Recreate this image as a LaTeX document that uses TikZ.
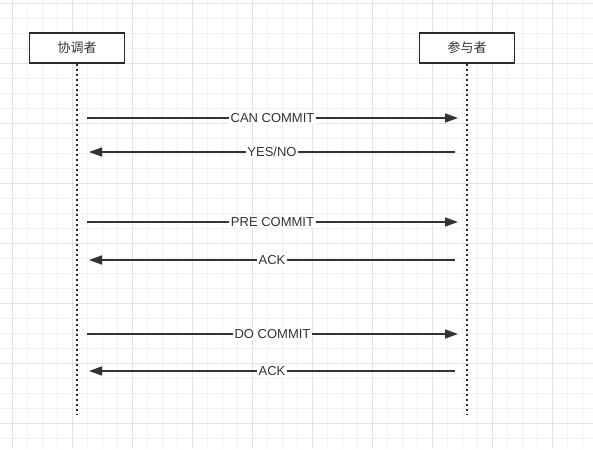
\documentclass[tikz,border=0pt]{standalone}
\usepackage{fontspec}
\setmainfont{Liberation Sans}
\newfontfamily\cjk{Noto Sans CJK SC}
\usepackage{xcolor}
\usepackage{tikz}
\usetikzlibrary{positioning, arrows.meta, calc}

\definecolor{ink}{HTML}{333333}
\definecolor{gridminor}{HTML}{F2F2F2}
\definecolor{gridmajor}{HTML}{E4E4E4}

\begin{document}
\begin{tikzpicture}[x=1pt, y=-1pt, >={Triangle[length=13pt, width=9pt]},
  actor/.style={draw=ink!80!black, line width=1.8pt, fill=white, minimum width=95pt,
    minimum height=30pt, inner sep=0pt, font=\cjk\fontsize{13}{15}\selectfont, text=ink},
  life/.style={black!85, line width=1.9pt, dash pattern=on 1.9pt off 3.1pt},
  msg/.style={->, ink, line width=1.5pt},
  lbl/.style={fill=white, inner sep=1.5pt, text=ink, font=\fontsize{13}{15}\selectfont}]
  \useasboundingbox (0,0) rectangle (593,449);
  % background grid
  \foreach \x in {12,27,...,590} \draw[gridminor, line width=0.8pt] (\x,0) -- (\x,449);
  \foreach \y in {3,18,...,448} \draw[gridminor, line width=0.8pt] (0,\y) -- (593,\y);
  \foreach \x in {12,72,...,590} \draw[gridmajor, line width=0.9pt] (\x,0) -- (\x,449);
  \foreach \y in {3,63,...,448} \draw[gridmajor, line width=0.9pt] (0,\y) -- (593,\y);

  \node[actor] (coord) at (77,48) {协调者};
  \node[actor] (part) at (467,48) {参与者};
  \coordinate (coordEnd) at (77,414);
  \coordinate (partEnd) at (467,414);
  \draw[life] (coord.south) -- (coordEnd);
  \draw[life] (part.south) -- (partEnd);

  % phase 1
  \coordinate (c1) at (87,118);   \coordinate (p1) at (458,118);
  \coordinate (p2) at (455,152);  \coordinate (c2) at (89,152);
  % phase 2
  \coordinate (c3) at (87,222);   \coordinate (p3) at (458,222);
  \coordinate (p4) at (455,260);  \coordinate (c4) at (89,260);
  % phase 3
  \coordinate (c5) at (87,334);   \coordinate (p5) at (458,334);
  \coordinate (p6) at (455,371);  \coordinate (c6) at (89,371);

  \draw[msg] (c1) -- node[lbl]{CAN COMMIT} (p1);
  \draw[msg] (p2) -- node[lbl]{YES/NO} (c2);
  \draw[msg] (c3) -- node[lbl]{PRE COMMIT} (p3);
  \draw[msg] (p4) -- node[lbl]{ACK} (c4);
  \draw[msg] (c5) -- node[lbl]{DO COMMIT} (p5);
  \draw[msg] (p6) -- node[lbl]{ACK} (c6);
\end{tikzpicture}
\end{document}
